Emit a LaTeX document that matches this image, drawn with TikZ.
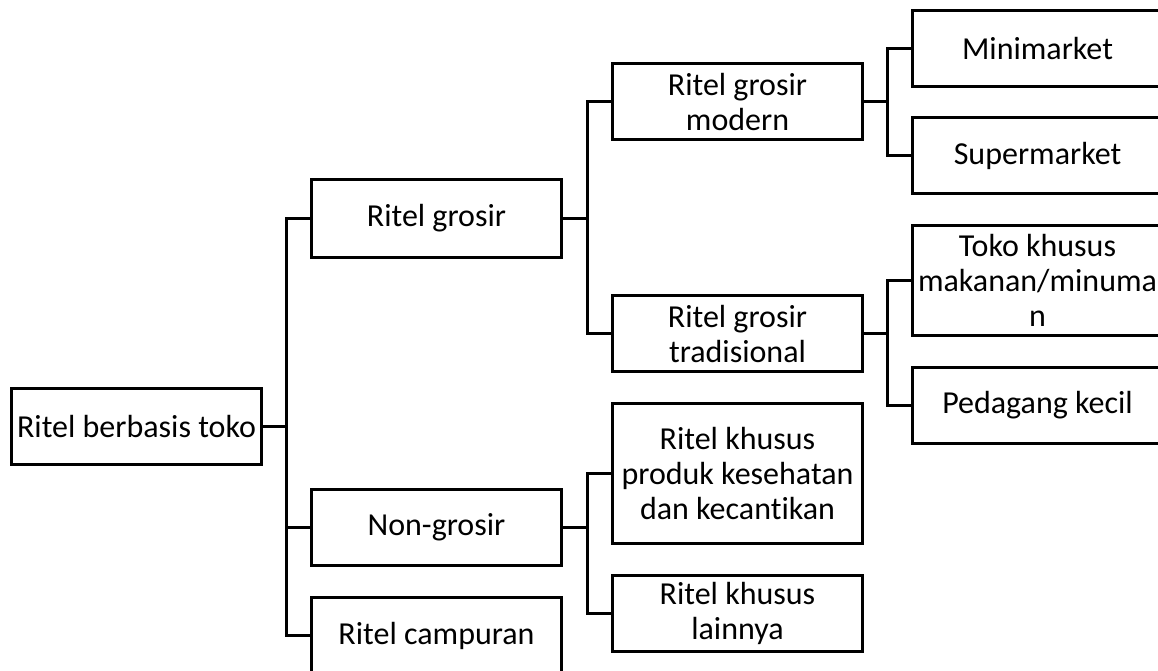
\documentclass[tikz,border=0pt]{standalone}
\usepackage{fontspec}
\setmainfont{Carlito}[Ligatures=NoCommon]
\begin{document}
\begin{tikzpicture}[x=1pt,y=-1pt,
  box/.style={draw=black,line width=3pt,fill=white,inner sep=0pt,align=center,
    minimum width=250pt,font=\fontsize{32pt}{35pt}\selectfont},
  conn/.style={draw=black,line width=3pt}]
\useasboundingbox (0,0) rectangle (1158,670);
\clip (0,0) rectangle (1158,670);
\fill[white] (0,0) rectangle (1158,670);
% level 0
\node[box,minimum height=76pt] (root) at (136.5,426.5) {Ritel berbasis toko};
% level 1
\node[box,minimum height=78pt] (rg) at (436.5,218.5) {Ritel grosir};
\node[box,minimum height=76pt] (ng) at (436.5,527.5) {Non-grosir};
\node[box,minimum height=76pt] (rc) at (436.5,635.5) {Ritel campuran};
% level 2
\node[box,minimum height=76pt] (rgm) at (737.5,101.5) {Ritel grosir\\modern};
\node[box,minimum height=76pt] (rgt) at (737.5,333.5) {Ritel grosir\\tradisional};
\node[box,minimum height=140pt] (rkp) at (737.5,473.5) {Ritel khusus\\produk kesehatan\\dan kecantikan};
\node[box,minimum height=76pt] (rkl) at (737.5,613.5) {Ritel khusus\\lainnya};
% level 3
\node[box,minimum height=76pt] (mm) at (1037.5,48.5) {Minimarket};
\node[box,minimum height=76pt] (sm) at (1037.5,155.5) {Supermarket};
\node[box,minimum height=110pt] (tk) at (1037.5,280.5) {Toko khusus\\makanan/minuma\\n};
\node[box,minimum height=76pt] (pk) at (1037.5,405.5) {Pedagang kecil};
% junction coordinates
\coordinate (j0) at (286.5,426.5);
\coordinate (j1) at (587.5,218.5);
\coordinate (j2) at (587.5,527.5);
\coordinate (j3) at (887.5,101.5);
\coordinate (j4) at (887.5,333.5);
% connectors
\draw[conn] (root.east) -- (j0);
\draw[conn] (rg.west) -| (j0 |- rc.west) -- (rc.west);
\draw[conn] (ng.west) -- (ng.west -| j0);
\draw[conn] (rg.east) -- (j1);
\draw[conn] (rgm.west) -| (j1 |- rgt.west) -- (rgt.west);
\draw[conn] (ng.east) -- (j2);
\draw[conn] (rkp.west) -| (j2 |- rkl.west) -- (rkl.west);
\draw[conn] (rgm.east) -- (j3);
\draw[conn] (mm.west) -| (j3 |- sm.west) -- (sm.west);
\draw[conn] (rgt.east) -- (j4);
\draw[conn] (tk.west) -| (j4 |- pk.west) -- (pk.west);
\end{tikzpicture}
\end{document}
